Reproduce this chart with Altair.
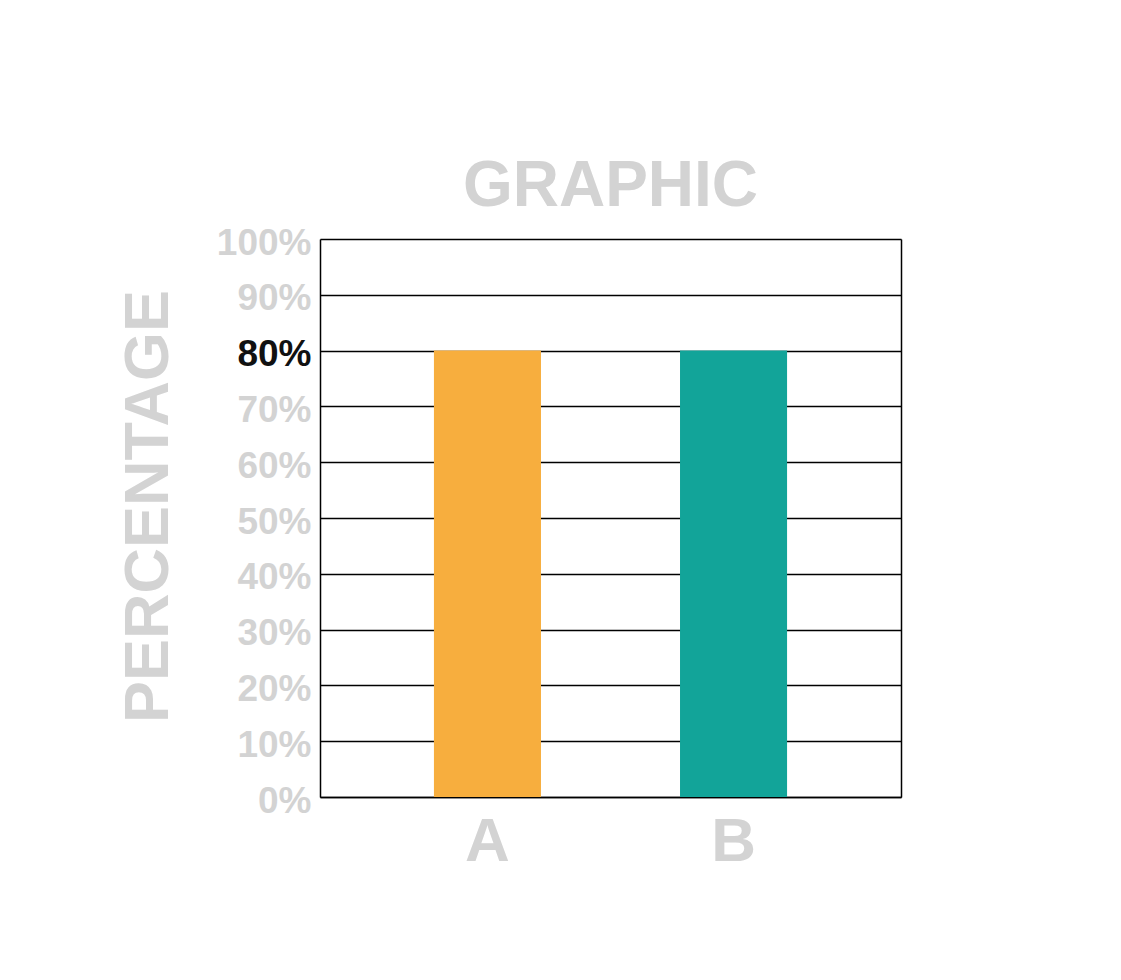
import altair as alt
import pandas as pd

categories = ["A", "B"]
values = [0.80, 0.80]
colors = ["#F7AE3E", "#12A499"]
tick_values = [0, 0.1, 0.2, 0.3, 0.4, 0.5, 0.6, 0.7, 0.8, 0.9, 1.0]

df = pd.DataFrame({"cat": categories, "val": values})

GRAY = "#d3d3d3"
FONT = "Liberation Sans"

xenc = alt.X("cat:N",
             scale=alt.Scale(paddingInner=0.565, paddingOuter=0.463),
             axis=alt.Axis(title=None, labelAngle=0, ticks=False, grid=False,
                           domainColor="black", domainWidth=1.5,
                           labelFont=FONT, labelFontSize=62, labelFontWeight="bold",
                           labelColor=GRAY, labelBaseline="alphabetic", labelPadding=63))

bars = alt.Chart(df).mark_bar().encode(
    x=xenc,
    y=alt.Y("val:Q",
            scale=alt.Scale(domain=[0, 1], nice=False),
            axis=alt.Axis(title="PERCENTAGE", values=tick_values, format=".0%",
                          ticks=False, grid=True, gridColor="black", gridWidth=1.5,
                          gridOpacity=1, domainColor="black", domainWidth=1.5,
                          labelFont=FONT, labelFontSize=37, labelFontWeight="bold",
                          labelColor=alt.ExprRef("datum.value == 0.8 ? '#111111' : '" + GRAY + "'"),
                          labelPadding=9, labelBaseline="middle", labelOffset=4,
                          titleFont=FONT, titleFontSize=63, titleFontWeight="bold",
                          titleColor=GRAY, titleAngle=270, titleAlign="center",
                          titleBaseline="middle", titleX=-172, titleY=267)),
    color=alt.Color("cat:N", scale=alt.Scale(domain=categories, range=colors), legend=None),
)

right_frame = alt.Chart(df).mark_bar(opacity=0).encode(
    x=xenc,
    y=alt.Y("val:Q",
            scale=alt.Scale(domain=[0, 1], nice=False),
            axis=alt.Axis(orient="right", title=None, labels=False, ticks=False,
                          grid=False, domainColor="black", domainWidth=1.5)),
)

chart = alt.layer(bars, right_frame).resolve_axis(y="independent").properties(
    width=581,
    height=558,
    title=alt.TitleParams("GRAPHIC", font=FONT, fontSize=64, fontWeight="bold",
                          color=GRAY, anchor="middle", baseline="alphabetic", offset=16, dy=62),
    autosize=alt.AutoSizeParams(type="none"),
    padding={"left": 312, "top": 231, "right": 200, "bottom": 160},
).configure_view(
    stroke="black", strokeWidth=1.5
).configure(background="white")

chart.save("out.html", embed_options={"renderer": "svg", "actions": False})
